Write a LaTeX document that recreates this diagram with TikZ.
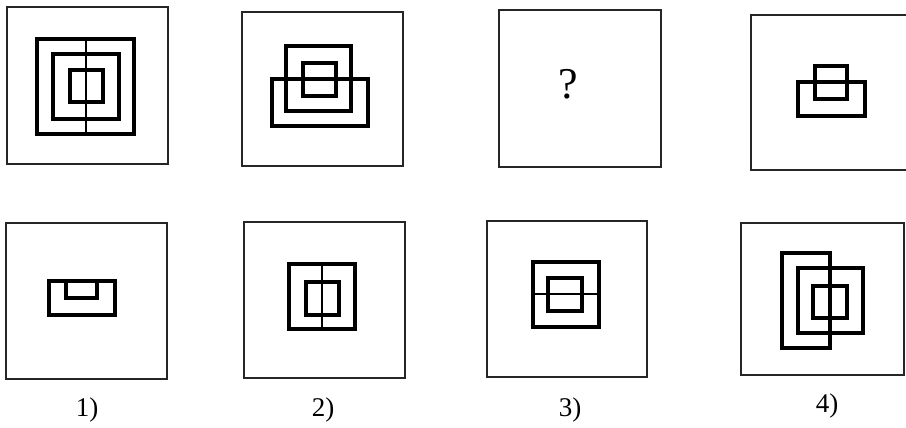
\documentclass[tikz,border=0pt]{standalone}
\usepackage{fontspec}
\setmainfont{Liberation Serif}
\begin{document}
\begin{tikzpicture}[x=1pt,y=-1pt,
  frame/.style={draw=black!85,line width=1.6pt},
  fig/.style={draw=black,line width=3.3pt,line join=miter},
  thinfig/.style={draw=black,line width=2.2pt},
  lbl/.style={font=\fontsize{27}{30}\selectfont,inner sep=0pt}]
\useasboundingbox (0,0) rectangle (906,428);
% ---- top row ----
% panel 1
\draw[frame] (7,7) rectangle (168,164);
\draw[fig] (37,39) rectangle (134,134);
\draw[fig] (53,54) rectangle (119,119);
\draw[fig] (70,70) rectangle (103,102);
\draw[thinfig] (86,39) -- (86,134);
% panel 2
\draw[frame] (242,12) rectangle (403,166);
\draw[fig] (286,46) rectangle (351,111);
\draw[fig] (303,63) rectangle (336,96);
\draw[fig] (272,79) rectangle (368,126);
% panel 3
\draw[frame] (499,10) rectangle (661,167);
\node[font=\fontsize{44}{50}\selectfont,inner sep=0pt] (q) at (568,84) {?};
% panel 4 (right side cut off)
\draw[frame] (910,15) -- (751,15) -- (751,170) -- (910,170);
\draw[fig] (815,66) rectangle (847,99);
\draw[fig] (798,82) rectangle (865,116);
% ---- bottom row ----
% option 1
\draw[frame] (6,223) rectangle (167,379);
\draw[fig] (49,281) rectangle (115,315);
\draw[fig] (66,281) -- (66,298) -- (97,298) -- (97,281);
\node[lbl] (l1) at (87,410) {1)};
% option 2
\draw[frame] (244,222) rectangle (405,378);
\draw[fig] (289,264) rectangle (355,329);
\draw[fig] (306,282) rectangle (339,315);
\draw[thinfig] (322,264) -- (322,329);
\node[lbl] (l2) at (323,410) {2)};
% option 3
\draw[frame] (487,221) rectangle (647,377);
\draw[fig,line width=4pt] (533,262) rectangle (599,327);
\draw[fig] (548,278) rectangle (582,311);
\draw[draw=black,line width=1.4pt] (533,294) -- (599,294);
\node[lbl] (l3) at (570,410) {3)};
% option 4
\draw[frame] (741,223) rectangle (904,375);
\draw[fig] (782,253) rectangle (830,348);
\draw[fig] (798,268) rectangle (863,333);
\draw[fig] (813,286) rectangle (847,318);
\node[lbl] (l4) at (827,406) {4)};
\end{tikzpicture}
\end{document}
